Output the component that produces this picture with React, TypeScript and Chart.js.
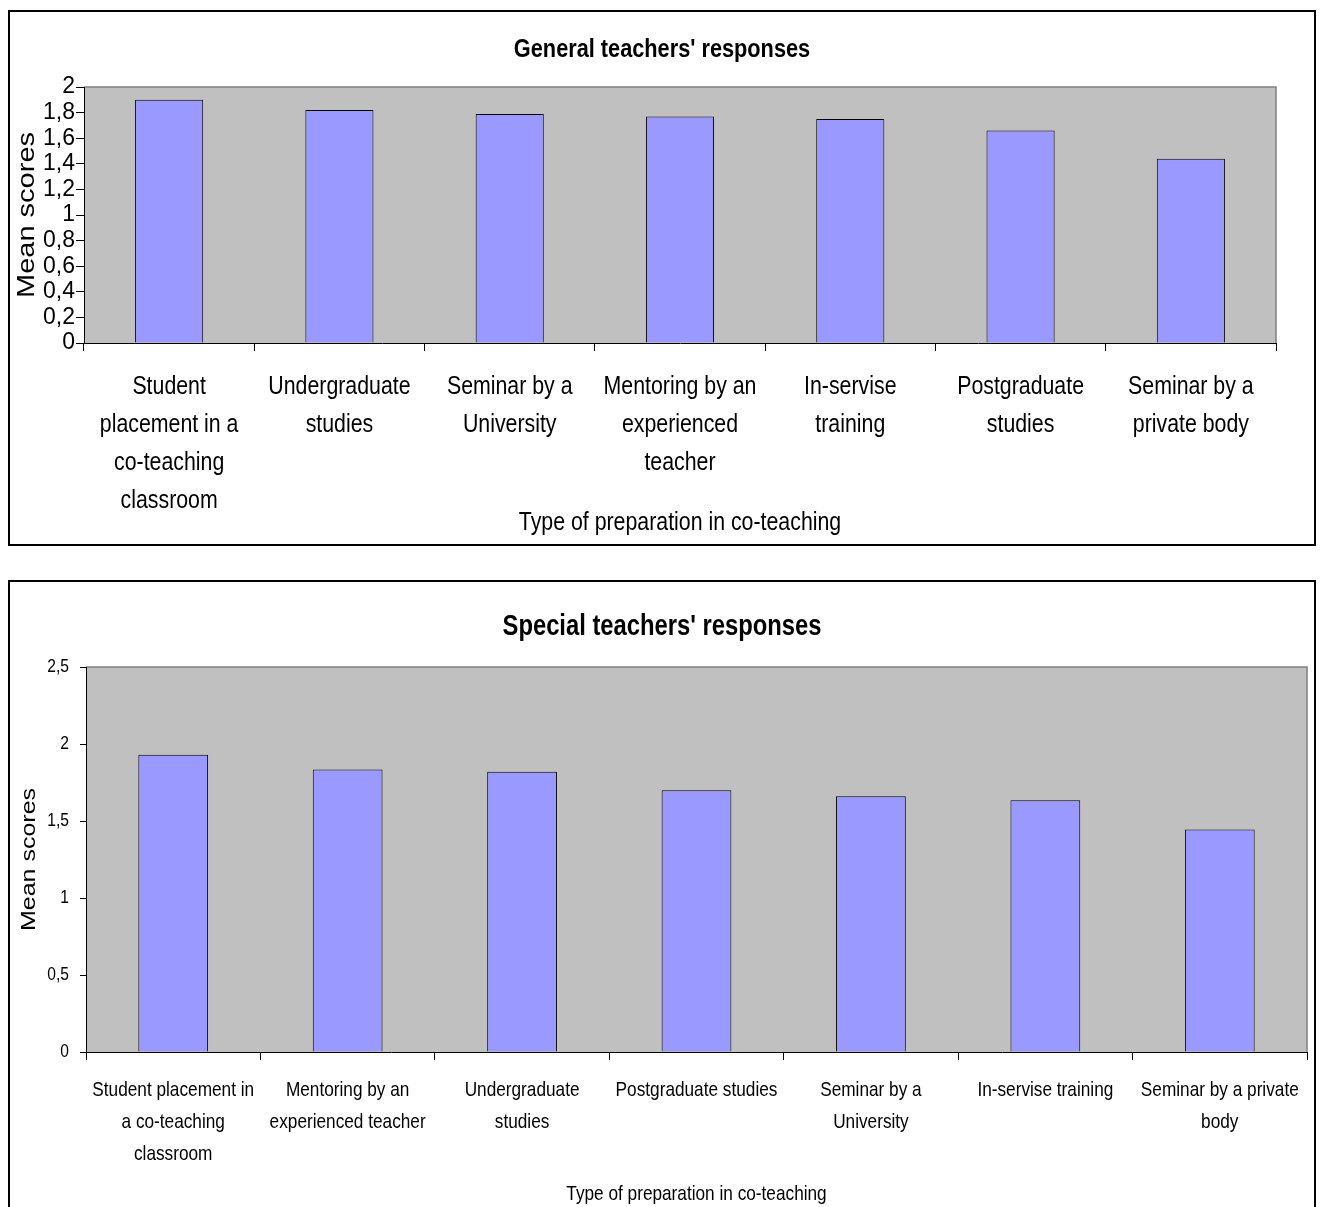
import React, { useEffect, useRef } from "react";
import { Chart, registerables } from "chart.js";

Chart.register(...registerables);
Chart.defaults.color = "#000";

// General teachers
const generalCategories: string[][] = [
  ["Student", "placement in a", "co-teaching", "classroom"],
  ["Undergraduate", "studies"],
  ["Seminar by a", "University"],
  ["Mentoring by an", "experienced", "teacher"],
  ["In-servise", "training"],
  ["Postgraduate", "studies"],
  ["Seminar by a", "private body"],
];
const generalMeans: number[] = [1.9, 1.82, 1.79, 1.77, 1.75, 1.66, 1.44];

// Special teachers
const specialCategories: string[][] = [
  ["Student placement in", "a co-teaching", "classroom"],
  ["Mentoring by an", "experienced teacher"],
  ["Undergraduate", "studies"],
  ["Postgraduate studies"],
  ["Seminar by a", "University"],
  ["In-servise training"],
  ["Seminar by a private", "body"],
];
const specialMeans: number[] = [1.93, 1.835, 1.82, 1.7, 1.66, 1.635, 1.445];

const generalTitle = "General teachers' responses";
const specialTitle = "Special teachers' responses";
const yAxisTitle = "Mean scores";
const xAxisTitle = "Type of preparation in co-teaching";

// "Arial Narrow" is not installed: text set in it is drawn with Liberation Sans
// and squeezed horizontally by NARROW_FACTOR (see condensedText below).
const NARROW = "'Arial Narrow', 'Liberation Sans', Arial, sans-serif";
const SANS = "'Liberation Sans', Arial, sans-serif";
const NARROW_FACTOR = 0.82;

// Squeeze narrow-font text along the page's x direction around its anchor,
// whatever rotation is active (so rotated titles get thinner, not shorter),
// and report the squeezed widths to the layout code.
const condensedText = {
  id: "condensedText",
  beforeInit(chart: any) {
    const ctx: CanvasRenderingContext2D = chart.ctx;
    if ((ctx as any).__condensed) return;
    (ctx as any).__condensed = true;
    const isNarrow = () => String(ctx.font).includes("Narrow");
    const origFill = ctx.fillText.bind(ctx);
    const origMeasure = ctx.measureText.bind(ctx);
    (ctx as any).measureText = (text: string) => {
      const m = origMeasure(text);
      if (!isNarrow()) return m;
      return {
        width: m.width * NARROW_FACTOR,
        actualBoundingBoxLeft: m.actualBoundingBoxLeft * NARROW_FACTOR,
        actualBoundingBoxRight: m.actualBoundingBoxRight * NARROW_FACTOR,
        actualBoundingBoxAscent: m.actualBoundingBoxAscent,
        actualBoundingBoxDescent: m.actualBoundingBoxDescent,
      };
    };
    (ctx as any).fillText = (text: string, x: number, y: number, maxWidth?: number) => {
      if (!isNarrow()) {
        if (maxWidth === undefined) origFill(text, x, y);
        else origFill(text, x, y, maxWidth);
        return;
      }
      const m = ctx.getTransform();
      const p = m.transformPoint(new DOMPoint(x, y));
      ctx.save();
      ctx.setTransform(1, 0, 0, 1, 0, 0);
      ctx.translate(p.x, p.y);
      ctx.scale(NARROW_FACTOR, 1);
      ctx.translate(-p.x, -p.y);
      ctx.transform(m.a, m.b, m.c, m.d, m.e, m.f);
      origFill(text, x, y);
      ctx.restore();
    };
  },
};

// grey plot area with a darker top/right edge
const plotBackground = {
  id: "plotBackground",
  beforeDraw(chart: any) {
    const { ctx, chartArea: a } = chart;
    ctx.save();
    ctx.fillStyle = "#C0C0C0";
    ctx.fillRect(a.left, a.top, a.right - a.left, a.bottom - a.top);
    ctx.strokeStyle = "#808080";
    ctx.lineWidth = 1.5;
    ctx.beginPath();
    ctx.moveTo(a.left, a.top);
    ctx.lineTo(a.right, a.top);
    ctx.lineTo(a.right, a.bottom);
    ctx.stroke();
    ctx.restore();
  },
};

const commaFormat = (v: any) => String(Math.round(Number(v) * 10) / 10).replace(".", ",");

interface Spec {
  labels: string[][];
  values: number[];
  title: string;
  titleSize: number;
  titlePad: { top: number; bottom: number };
  yMax: number;
  yStep: number;
  yTickFont: any;
  yTickPad: number;
  yTickLen: number;
  yTitleFont: any;
  yTitlePad: { top: number; bottom: number };
  yWidth: number;
  xTickFont: any;
  xTickPad: number;
  xTickLen: number;
  xTitleFont: any;
  xTitlePad: { top: number; bottom: number };
  xHeight: number;
  rightGap: number;
}

function makeConfig(s: Spec): any {
  return {
    type: "bar",
    data: {
      labels: s.labels,
      datasets: [
        {
          data: s.values,
          backgroundColor: "#9999FF",
          borderColor: "#000",
          borderWidth: 1,
          barPercentage: 0.4,
          categoryPercentage: 1,
        },
      ],
    },
    options: {
      responsive: false,
      animation: false,
      devicePixelRatio: 1,
      layout: { padding: 0 },
      plugins: {
        legend: { display: false },
        tooltip: { enabled: false },
        title: {
          display: true,
          text: s.title,
          color: "#000",
          font: { family: NARROW, size: s.titleSize, weight: "bold" },
          padding: s.titlePad,
        },
      },
      scales: {
        x: {
          offset: true,
          grid: {
            offset: true,
            drawOnChartArea: false,
            drawTicks: true,
            tickLength: s.xTickLen,
            color: "#000",
          },
          border: { color: "#000", width: 1 },
          ticks: {
            autoSkip: false,
            maxRotation: 0,
            minRotation: 0,
            padding: s.xTickPad,
            font: s.xTickFont,
            color: "#000",
          },
          title: {
            display: true,
            text: xAxisTitle,
            font: s.xTitleFont,
            color: "#000",
            padding: s.xTitlePad,
          },
          afterFit(scale: any) {
            scale.height = s.xHeight;
          },
        },
        y: {
          min: 0,
          max: s.yMax,
          grid: {
            drawOnChartArea: false,
            drawTicks: true,
            tickLength: s.yTickLen,
            color: "#000",
          },
          border: { color: "#000", width: 1 },
          ticks: {
            stepSize: s.yStep,
            autoSkip: false,
            padding: s.yTickPad,
            font: s.yTickFont,
            color: "#000",
            callback: commaFormat,
          },
          title: {
            display: true,
            text: yAxisTitle,
            font: s.yTitleFont,
            color: "#000",
            padding: s.yTitlePad,
          },
          afterFit(scale: any) {
            scale.width = s.yWidth;
          },
        },
        // empty right-hand strip: keeps white space beside the plot without
        // pulling the centred chart title off the middle of the panel
        gap: {
          type: "linear",
          position: "right",
          display: true,
          grid: { display: false, drawTicks: false },
          border: { display: false },
          ticks: { display: false },
          afterFit(scale: any) {
            scale.width = s.rightGap;
          },
        },
      },
    },
    plugins: [condensedText, plotBackground],
  };
}

function BarPanel(props: { spec: Spec; left: number; top: number; width: number; height: number }) {
  const ref = useRef<HTMLCanvasElement | null>(null);
  const { spec, left, top, width, height } = props;
  const border = 2;
  const cw = width - border * 2;
  const ch = height - border * 2;
  useEffect(() => {
    if (!ref.current) return;
    const chart = new Chart(ref.current, makeConfig(spec));
    return () => chart.destroy();
  }, [spec]);
  return (
    <div
      style={{
        position: "absolute",
        left,
        top,
        width,
        height,
        boxSizing: "border-box",
        border: `${border}px solid #000`,
        background: "#fff",
      }}
    >
      <canvas ref={ref} width={cw} height={ch} style={{ display: "block", width: cw, height: ch }} />
    </div>
  );
}

const generalSpec: Spec = {
  labels: generalCategories,
  values: generalMeans,
  title: generalTitle,
  titleSize: 26.5,
  titlePad: { top: 22.1, bottom: 21.1 },
  yMax: 2,
  yStep: 0.2,
  yTickFont: { family: SANS, size: 23, lineHeight: 1.1 },
  yTickPad: 1,
  yTickLen: 8,
  yTitleFont: { family: NARROW, size: 29 },
  yTitlePad: { top: 0, bottom: 0 },
  yWidth: 74,
  xTickFont: { family: NARROW, size: 26, lineHeight: 38 / 26 },
  xTickPad: 17,
  xTickLen: 8,
  xTitleFont: { family: NARROW, size: 26 },
  xTitlePad: { top: 0, bottom: 5.4 },
  xHeight: 201,
  rightGap: 38,
};

const specialSpec: Spec = {
  labels: specialCategories,
  values: specialMeans,
  title: specialTitle,
  titleSize: 29,
  titlePad: { top: 27.6, bottom: 22.6 },
  yMax: 2.5,
  yStep: 0.5,
  yTickFont: { family: NARROW, size: 19 },
  yTickPad: 11,
  yTickLen: 6,
  yTitleFont: { family: NARROW, size: 25 },
  yTitlePad: { top: 4, bottom: 0 },
  yWidth: 76,
  xTickFont: { family: NARROW, size: 21, lineHeight: 32 / 21 },
  xTickPad: 14,
  xTickLen: 8,
  xTitleFont: { family: NARROW, size: 21 },
  xTitlePad: { top: 0, bottom: 3.4 },
  xHeight: 158,
  rightGap: 7,
};

export default function App() {
  return (
    <div
      style={{
        position: "fixed",
        left: 0,
        top: 0,
        width: 1320,
        height: 1207,
        overflow: "hidden",
        background: "#fff",
      }}
    >
      <BarPanel spec={generalSpec} left={8} top={10} width={1308} height={536} />
      <BarPanel spec={specialSpec} left={8} top={580} width={1308} height={632} />
    </div>
  );
}
